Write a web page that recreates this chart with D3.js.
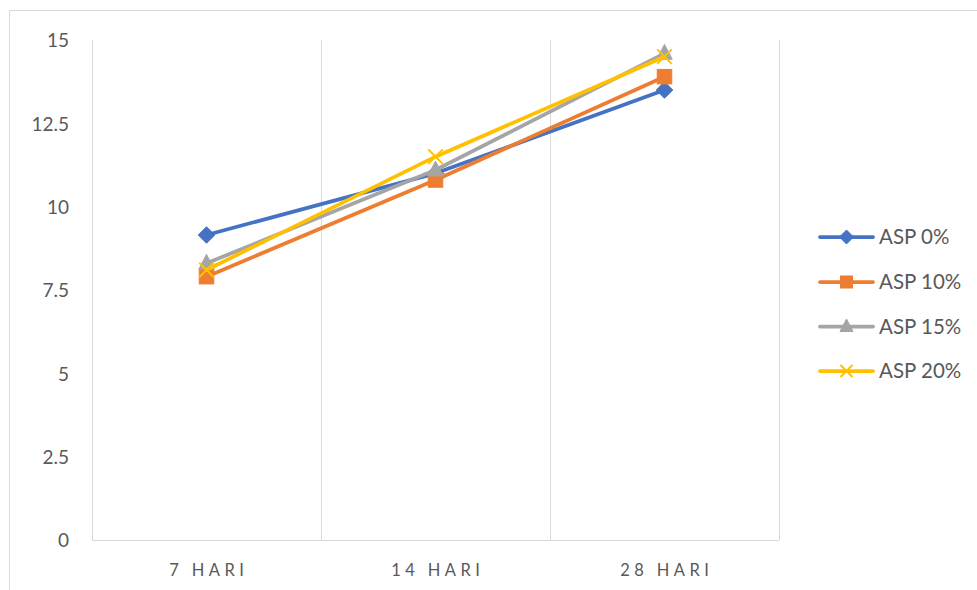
<!DOCTYPE html>
<html>
<head>
<meta charset="utf-8">
<script src="https://cdn.jsdelivr.net/npm/d3@7"></script>
<style>
  html, body { margin: 0; padding: 0; background: #fff; }
  svg { display: block; font-family: "Lato", "Open Sans", sans-serif; }
</style>
</head>
<body>
<svg id="chart" width="977" height="590"></svg>
<script>
// Categories (curing age) and one value list per series
const categories = ["7 HARI", "14 HARI", "28 HARI"];
const asp0  = [9.15, 11.0, 13.5];
const asp10 = [7.9, 10.8, 13.9];
const asp15 = [8.3, 11.1, 14.6];
const asp20 = [8.1, 11.5, 14.5];
const seriesNames = ["ASP 0%", "ASP 10%", "ASP 15%", "ASP 20%"];
const seriesColors = ["#4472C4", "#ED7D31", "#A5A5A5", "#FFC000"];
const seriesMarkers = ["diamond", "square", "triangle", "cross"];
const yTicks = [0, 2.5, 5, 7.5, 10, 12.5, 15];

const series = [asp0, asp10, asp15, asp20].map((vals, i) => ({
  name: seriesNames[i], color: seriesColors[i], marker: seriesMarkers[i], values: vals
}));

const svg = d3.select("#chart");
const textColor = "#595959";
const gridColor = "#D9D9D9";

// chart frame
svg.append("rect")
  .attr("x", 9.5).attr("y", 10.5)
  .attr("width", 1000).attr("height", 700)
  .attr("fill", "#fff").attr("stroke", gridColor).attr("stroke-width", 1);

const x = d3.scaleBand().domain(categories).range([92, 779]).paddingInner(0).paddingOuter(0);
const y = d3.scaleLinear().domain([0, 15]).range([540, 40]);

// vertical gridlines at category boundaries
const bounds = categories.map(c => x(c)).concat([x.range()[1]]);
svg.append("g").selectAll("line").data(bounds).join("line")
  .attr("x1", d => Math.round(d) + 0.5).attr("x2", d => Math.round(d) + 0.5)
  .attr("y1", y(15)).attr("y2", y(0))
  .attr("stroke", gridColor).attr("stroke-width", 1);

// category axis line
svg.append("line")
  .attr("x1", x.range()[0]).attr("x2", x.range()[1])
  .attr("y1", y(0) + 0.5).attr("y2", y(0) + 0.5)
  .attr("stroke", gridColor).attr("stroke-width", 1);

// value axis labels
const yAxis = d3.axisLeft(y).tickValues(yTicks).tickSize(0).tickPadding(0)
  .tickFormat(d => String(d));
const yg = svg.append("g").attr("transform", "translate(69,0)").call(yAxis);
yg.select(".domain").remove();
yg.selectAll("text")
  .attr("fill", textColor).attr("font-size", 19).attr("font-family", "Lato, 'Open Sans', sans-serif")
  .attr("dy", "0.36em");

// category labels (letter-spaced; dx recentres the trailing spacing)
const catSpacing = 4.4;
const xAxis = d3.axisBottom(x).tickSize(0).tickPadding(0);
const xg = svg.append("g").attr("transform", `translate(0,${y(0)})`).call(xAxis);
xg.select(".domain").remove();
xg.selectAll("text")
  .attr("fill", textColor).attr("font-size", 16.5).attr("font-family", "Lato, 'Open Sans', sans-serif")
  .attr("letter-spacing", catSpacing + "px")
  .attr("dx", catSpacing / 2)
  .attr("y", 35.5).attr("dy", 0);

const cx = c => x(c) + x.bandwidth() / 2;

function drawMarker(g, type, color, size) {
  const s = size;
  if (type === "diamond") {
    g.append("path")
      .attr("d", `M0,${-s / 2}L${s / 2},0L0,${s / 2}L${-s / 2},0Z`)
      .attr("fill", color).attr("stroke", color).attr("stroke-width", 1);
  } else if (type === "square") {
    g.append("rect").attr("x", -s / 2 + 1).attr("y", -s / 2 + 1)
      .attr("width", s - 2).attr("height", s - 2)
      .attr("fill", color).attr("stroke", color).attr("stroke-width", 1);
  } else if (type === "triangle") {
    const h = s * 0.9;
    g.append("path")
      .attr("d", `M0,${-h * 0.6}L${s / 2 - 0.5},${h * 0.4}L${-s / 2 + 0.5},${h * 0.4}Z`)
      .attr("fill", color).attr("stroke", color).attr("stroke-width", 1);
  } else if (type === "cross") {
    const a = s / 2 - 1;
    g.append("path")
      .attr("d", `M${-a},${-a}L${a},${a}M${-a},${a}L${a},${-a}`)
      .attr("fill", "none").attr("stroke", color).attr("stroke-width", 2);
  }
}

const line = d3.line().x((d, i) => cx(categories[i])).y(d => y(d));

series.forEach(s => {
  const g = svg.append("g");
  g.append("path").datum(s.values)
    .attr("d", line)
    .attr("fill", "none").attr("stroke", s.color)
    .attr("stroke-width", 3.75).attr("stroke-linejoin", "round").attr("stroke-linecap", "round");
  s.values.forEach((v, i) => {
    const mg = g.append("g").attr("transform", `translate(${cx(categories[i])},${y(v)})`);
    drawMarker(mg, s.marker, s.color, 16.5);
  });
});

// legend
const legend = svg.append("g");
const rowY = [237, 282, 326.5, 371];
series.forEach((s, i) => {
  const r = legend.append("g").attr("transform", `translate(0,${rowY[i]})`);
  r.append("line").attr("x1", 820).attr("x2", 873).attr("y1", 0).attr("y2", 0)
    .attr("stroke", s.color).attr("stroke-width", 3.75).attr("stroke-linecap", "round");
  const mg = r.append("g").attr("transform", "translate(846.5,0)");
  drawMarker(mg, s.marker, s.color, 14);
  r.append("text").attr("x", 879).attr("y", 0).attr("dy", "0.36em")
    .attr("fill", textColor).attr("font-size", 20.5)
    .text(s.name);
});
</script>
</body>
</html>
